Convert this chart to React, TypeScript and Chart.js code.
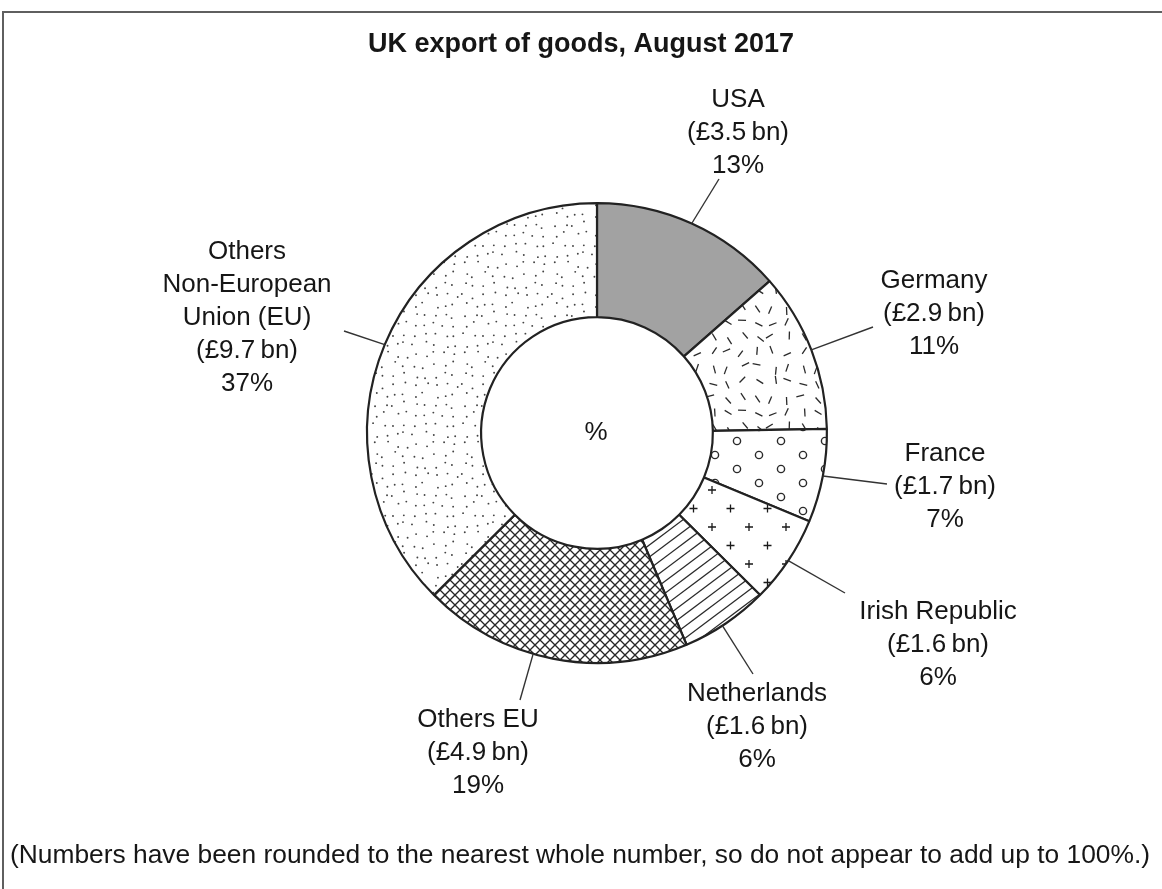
import React, { useEffect, useRef } from "react";
import { Chart, registerables } from "chart.js";

Chart.register(...registerables);

// ---------- data ----------
const categories = [
  "USA",
  "Germany",
  "France",
  "Irish Republic",
  "Netherlands",
  "Others EU",
  "Others Non-European Union (EU)",
];
const valuesBn = [3.5, 2.9, 1.7, 1.6, 1.6, 4.9, 9.7];
const percentLabels = ["13%", "11%", "7%", "6%", "6%", "19%", "37%"];
const nameLines = [
  ["USA"],
  ["Germany"],
  ["France"],
  ["Irish Republic"],
  ["Netherlands"],
  ["Others EU"],
  ["Others", "Non-European", "Union (EU)"],
];
const titleText = "UK export of goods, August 2017";
const footnoteText =
  "(Numbers have been rounded to the nearest whole number, so do not appear to add up to 100%.)";
const centerText = "%";

// ---------- layout / style (not data) ----------
// text block centre and leader-line end, relative to the doughnut centre; da = start-angle shift (deg)
const LABEL_LAYOUT = [
  { tx: 141, ty: -300, lx: 122, ly: -254, da: 0 },
  { tx: 337, ty: -119, lx: 276, ly: -106, da: 0 },
  { tx: 348, ty: 54, lx: 290, ly: 51, da: 0 },
  { tx: 341, ty: 212, lx: 248, ly: 160, da: 0 },
  { tx: 160, ty: 294, lx: 156, ly: 241, da: 1 },
  { tx: -119, ty: 320, lx: -77, ly: 267, da: 5 },
  { tx: -350, ty: -115, lx: -253, ly: -102, da: 0 },
];
const LINE_H = 33;
const FONT = '"Liberation Sans", Arial, Helvetica, sans-serif';
const LABEL_PX = 26;
const TEXT_COLOR = "#161616";

function lcg(seed: number) {
  let s = seed >>> 0;
  return () => {
    s = (Math.imul(s, 1664525) + 1013904223) >>> 0;
    return s / 4294967296;
  };
}

function makeTile(w: number, h: number, draw: (c: CanvasRenderingContext2D) => void) {
  const cv = document.createElement("canvas");
  cv.width = w;
  cv.height = h;
  const c = cv.getContext("2d")!;
  c.fillStyle = "#ffffff";
  c.fillRect(0, 0, w, h);
  draw(c);
  return cv;
}

function buildPatterns(ctx: CanvasRenderingContext2D) {
  const solid = "#a2a2a2";

  // Germany: short dashes at scattered angles
  const dashes = makeTile(90, 90, (c) => {
    const r = lcg(7);
    c.strokeStyle = "#2a2a2a";
    c.lineWidth = 1.3;
    c.lineCap = "butt";
    const cell = 15;
    for (let gy = 0; gy < 6; gy++)
      for (let gx = 0; gx < 6; gx++) {
        const cx = gx * cell + cell / 2 + (r() - 0.5) * 7;
        const cy = gy * cell + cell / 2 + (r() - 0.5) * 7;
        const a = r() * Math.PI;
        const L = 4;
        c.beginPath();
        c.moveTo(cx - Math.cos(a) * L, cy - Math.sin(a) * L);
        c.lineTo(cx + Math.cos(a) * L, cy + Math.sin(a) * L);
        c.stroke();
      }
  });

  // France: small open circles, staggered
  const circles = makeTile(44, 28, (c) => {
    c.strokeStyle = "#2a2a2a";
    c.lineWidth = 1.4;
    const pts = [
      [11, 7],
      [33, 21],
    ];
    pts.forEach(([x, y]) => {
      c.beginPath();
      c.arc(x, y, 3.6, 0, Math.PI * 2);
      c.stroke();
    });
  });

  // Irish Republic: plus signs, staggered
  const plus = makeTile(37, 37, (c) => {
    c.strokeStyle = "#1a1a1a";
    c.lineWidth = 1.3;
    const pts = [
      [9, 9],
      [27.5, 27.5],
    ];
    pts.forEach(([x, y]) => {
      c.beginPath();
      c.moveTo(x - 4, y);
      c.lineTo(x + 4, y);
      c.moveTo(x, y - 4);
      c.lineTo(x, y + 4);
      c.stroke();
    });
  });

  // Netherlands: diagonal lines rising to the right
  const diag = makeTile(48, 36, (c) => {
    c.strokeStyle = "#2a2a2a";
    c.lineWidth = 1.3;
    for (let k = -3; k <= 6; k++) {
      const t = k / 3;
      c.beginPath();
      c.moveTo(-48, t * 36 + 36);
      c.lineTo(96, t * 36 - 72);
      c.stroke();
    }
  });

  // Others EU: cross hatch
  const hatch = makeTile(10, 10, (c) => {
    c.strokeStyle = "#262626";
    c.lineWidth = 1.35;
    c.beginPath();
    c.moveTo(-1, -1);
    c.lineTo(11, 11);
    c.moveTo(-1, 11);
    c.lineTo(11, -1);
    c.stroke();
  });

  // Others Non-EU: fine scattered dots
  const dots = makeTile(90, 90, (c) => {
    const r = lcg(19);
    c.fillStyle = "#444";
    for (let gy = 0; gy < 9; gy++)
      for (let gx = 0; gx < 9; gx++) {
        const x = gx * 10 + 5 + (r() - 0.5) * 7;
        const y = gy * 10 + 5 + (r() - 0.5) * 7;
        c.beginPath();
        c.arc(x, y, 0.95, 0, Math.PI * 2);
        c.fill();
      }
  });

  return [
    solid,
    ctx.createPattern(dashes, "repeat")!,
    ctx.createPattern(circles, "repeat")!,
    ctx.createPattern(plus, "repeat")!,
    ctx.createPattern(diag, "repeat")!,
    ctx.createPattern(hatch, "repeat")!,
    ctx.createPattern(dots, "repeat")!,
  ];
}

const annotationPlugin = {
  id: "ukExportAnnotations",
  afterDraw(chart: any) {
    const ctx: CanvasRenderingContext2D = chart.ctx;
    const meta = chart.getDatasetMeta(0);
    ctx.save();

    // frame
    ctx.strokeStyle = "#5f5f5f";
    ctx.lineWidth = 2;
    ctx.strokeRect(3, 12, 1200, 900);

    // title
    ctx.fillStyle = TEXT_COLOR;
    ctx.textAlign = "center";
    ctx.textBaseline = "middle";
    ctx.font = `bold 27px ${FONT}`;
    ctx.fillText(titleText, 581, 45, 430);

    // footnote
    ctx.font = `26.4px ${FONT}`;
    ctx.fillText(footnoteText, 580, 856, 1140);

    meta.data.forEach((arc: any, i: number) => {
      const p = arc.getProps(["x", "y", "startAngle", "endAngle", "outerRadius"], true);
      const lay = LABEL_LAYOUT[i];
      const a = (p.startAngle + p.endAngle) / 2 + (lay.da * Math.PI) / 180;
      const sx = p.x + Math.cos(a) * p.outerRadius;
      const sy = p.y + Math.sin(a) * p.outerRadius;
      ctx.strokeStyle = "#333";
      ctx.lineWidth = 1.4;
      ctx.beginPath();
      ctx.moveTo(sx, sy);
      ctx.lineTo(p.x + lay.lx, p.y + lay.ly);
      ctx.stroke();

      const lines = [
        ...nameLines[i],
        `(£${valuesBn[i].toFixed(1)}\u2009bn)`,
        percentLabels[i],
      ];
      ctx.fillStyle = TEXT_COLOR;
      ctx.font = `${LABEL_PX}px ${FONT}`;
      ctx.textAlign = "center";
      ctx.textBaseline = "middle";
      const y0 = p.y + lay.ty - ((lines.length - 1) * LINE_H) / 2;
      lines.forEach((t, j) => ctx.fillText(t, p.x + lay.tx, y0 + j * LINE_H));

      if (i === 0) {
        ctx.font = `${LABEL_PX}px ${FONT}`;
        ctx.fillText(centerText, p.x - 1, p.y);
      }
    });
    ctx.restore();
  },
};

export default function App() {
  const ref = useRef<HTMLCanvasElement | null>(null);
  useEffect(() => {
    const canvas = ref.current!;
    const ctx = canvas.getContext("2d")!;
    const fills = buildPatterns(ctx);
    const chart = new Chart(canvas, {
      type: "doughnut",
      data: {
        labels: categories,
        datasets: [
          {
            data: valuesBn,
            backgroundColor: fills as any,
            borderColor: "#222",
            borderWidth: 2.2,
            hoverOffset: 0,
          },
        ],
      },
      options: {
        animation: false,
        responsive: true,
        maintainAspectRatio: false,
        cutout: "50.4%",
        layout: { padding: { left: 366, right: 334, top: 202, bottom: 225 } },
        plugins: {
          legend: { display: false },
          tooltip: { enabled: false },
          title: { display: false },
        },
        events: [],
      },
      plugins: [annotationPlugin],
    });
    return () => chart.destroy();
  }, []);
  return (
    <div
      style={{
        position: "fixed",
        left: 0,
        top: 0,
        width: 1162,
        height: 889,
        background: "#fff",
      }}
    >
      <canvas ref={ref} />
    </div>
  );
}
